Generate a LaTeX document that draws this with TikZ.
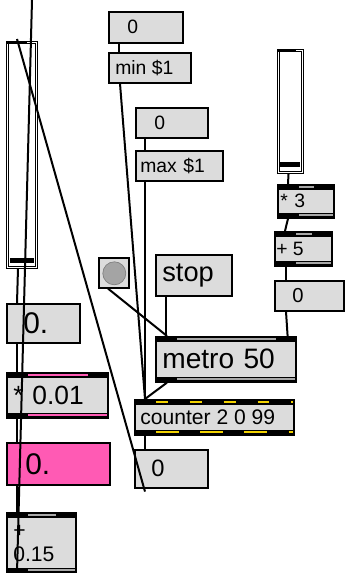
\documentclass[tikz,border=0pt]{standalone}
\usepackage{fontspec}
\setmainfont{Liberation Sans}
\usepackage{tikz}
\usetikzlibrary{positioning, calc}
\definecolor{PatchGrey}{HTML}{DCDCDC}
\definecolor{HotPink}{HTML}{FF5AB4}
\definecolor{InletGrey}{HTML}{A8A8A8}
\definecolor{CountYellow}{HTML}{F2D200}
\definecolor{BangGrey}{HTML}{A4A4A4}
\newdimen\pdpx
\pdpx=0.02cm
\tikzset{
  % Box styles
  numbox/.style={rectangle, draw=black, fill=PatchGrey, line width=1.6\pdpx, anchor=north west, inner sep=0pt},
  msgbox/.style={rectangle, draw=black, fill=PatchGrey, line width=1.6\pdpx, anchor=north west, inner sep=0pt},
  objbox/.style={rectangle, draw=black, fill=PatchGrey, line width=1.6\pdpx, anchor=north west, inner sep=0pt,
    path picture={
      \fill[black] (path picture bounding box.north west) rectangle ([yshift=-5\pdpx]path picture bounding box.north east);
      \fill[black] (path picture bounding box.south west) rectangle ([yshift=5\pdpx]path picture bounding box.south east);
      \fill[#1] ([xshift=21\pdpx,yshift=-1.5\pdpx]path picture bounding box.north west) rectangle ([xshift=-20\pdpx,yshift=-3.5\pdpx]path picture bounding box.north east);
      \fill[#1] ([xshift=21\pdpx,yshift=1.5\pdpx]path picture bounding box.south west) rectangle ([yshift=3.5\pdpx]path picture bounding box.south east);
    }},
  objbox/.default=InletGrey,
  cntbox/.style={rectangle, draw=black, fill=PatchGrey, line width=1.6\pdpx, anchor=north west, inner sep=0pt,
    path picture={
      \fill[black] (path picture bounding box.north west) rectangle ([yshift=-5\pdpx]path picture bounding box.north east);
      \fill[black] (path picture bounding box.south west) rectangle ([yshift=5\pdpx]path picture bounding box.south east);
      \draw[CountYellow, line width=2\pdpx, dash pattern=on 6.8pt off 12.5pt] ([xshift=21\pdpx,yshift=-2.5\pdpx]path picture bounding box.north west) -- ([yshift=-2.5\pdpx]path picture bounding box.north east);
      \draw[CountYellow, line width=2\pdpx, dash pattern=on 13pt off 12.2pt] ([xshift=21\pdpx,yshift=2.5\pdpx]path picture bounding box.south west) -- ([yshift=2.5\pdpx]path picture bounding box.south east);
    }},
  slider/.style={rectangle, draw=black, fill=white, line width=1.1\pdpx, double=white, double distance=1.1\pdpx, anchor=north west, inner sep=0pt},
  bang/.style={rectangle, draw=black, fill=PatchGrey, line width=1.6\pdpx, anchor=north west, inner sep=0pt},
  % Text
  boxtext/.style={anchor=west, inner sep=0pt, align=left},
  % Cord styles
  cord/.style={line width=2\pdpx, black}
}

\begin{document}
\begin{tikzpicture}[x=0.02cm, y=-0.02cm]
  \path[fill=white, use as bounding box] (0,0) rectangle (345,573);

  % Left column
  \node[slider, minimum width=29\pdpx, minimum height=225\pdpx] (lslider) at (7,42) {};
  \fill[black] (7,41) rectangle (27,44);
  \fill[black] (10,258) rectangle (34,263);
  \node[numbox, minimum width=73\pdpx, minimum height=39\pdpx] (lnum) at (6,303) {};
  \node[boxtext, font=\fontsize{17pt}{20pt}\selectfont] (lnum-t) at ([xshift=17\pdpx]lnum.west) {0.};
  \node[objbox=HotPink, minimum width=101\pdpx, minimum height=45\pdpx] (mul) at (6,372) {};
  \node[boxtext, font=\fontsize{15pt}{18pt}\selectfont] (mul-t) at ([xshift=7\pdpx]mul.west) {*\,\,0.01};
  \node[numbox, fill=HotPink, minimum width=103\pdpx, minimum height=42\pdpx] (pink) at (6,442) {};
  \node[boxtext, font=\fontsize{17pt}{20pt}\selectfont] (pink-t) at ([xshift=19\pdpx]pink.west) {0.};
  \node[objbox, minimum width=69\pdpx, minimum height=60\pdpx] (add) at (6,512) {};
  \node[boxtext, font=\fontsize{12pt}{13.6pt}\selectfont] (add-t) at ([xshift=7\pdpx,yshift=-1\pdpx]add.west) {+\\0.15};

  % Middle column
  \node[numbox, minimum width=74\pdpx, minimum height=31\pdpx] (topzero) at (108,11) {};
  \node[boxtext, font=\fontsize{11pt}{13pt}\selectfont] (topzero-t) at ([xshift=19\pdpx]topzero.west) {0};
  \node[msgbox, minimum width=82\pdpx, minimum height=30\pdpx] (minmsg) at (108,52) {};
  \node[boxtext, font=\fontsize{11pt}{13pt}\selectfont] (minmsg-t) at ([xshift=7\pdpx]minmsg.west) {min \$1};
  \node[numbox, minimum width=72\pdpx, minimum height=30\pdpx] (midzero) at (135,107) {};
  \node[boxtext, font=\fontsize{11pt}{13pt}\selectfont] (midzero-t) at ([xshift=19\pdpx]midzero.west) {0};
  \node[msgbox, minimum width=87\pdpx, minimum height=30\pdpx] (maxmsg) at (135,150) {};
  \node[boxtext, font=\fontsize{11pt}{13pt}\selectfont] (maxmsg-t) at ([xshift=5\pdpx]maxmsg.west) {max\,\,\$1};

  \node[bang, minimum width=30\pdpx, minimum height=30\pdpx] (bang) at (98,257) {};
  \fill[BangGrey, draw=gray] (bang.center) ++(0.5,0.5) circle[radius=11.5];
  \node[msgbox, minimum width=76\pdpx, minimum height=41\pdpx] (stop) at (155,254) {};
  \node[boxtext, font=\fontsize{15.5pt}{18pt}\selectfont] (stop-t) at ([xshift=7\pdpx]stop.west) {stop};
  \node[objbox, minimum width=140\pdpx, minimum height=45\pdpx] (metro) at (155,336) {};
  \node[boxtext, font=\fontsize{16pt}{19pt}\selectfont] (metro-t) at ([xshift=7\pdpx]metro.west) {metro\,\,50};
  \node[cntbox, minimum width=159\pdpx, minimum height=35\pdpx] (counter) at (134,399) {};
  \node[boxtext, font=\fontsize{12pt}{14pt}\selectfont] (counter-t) at ([xshift=6\pdpx]counter.west) {counter 2 0 99};
  \node[numbox, minimum width=73\pdpx, minimum height=38\pdpx] (botzero) at (134,449) {};
  \node[boxtext, font=\fontsize{13.5pt}{16pt}\selectfont] (botzero-t) at ([xshift=17\pdpx]botzero.west) {0};

  % Right column
  \node[slider, minimum width=24\pdpx, minimum height=122\pdpx] (rslider) at (278,50) {};
  \fill[black] (278,49) rectangle (296,52);
  \fill[black] (280,162) rectangle (300,167);
  \node[objbox, minimum width=56\pdpx, minimum height=33\pdpx] (times) at (277,184) {};
  \node[boxtext, font=\fontsize{11pt}{13pt}\selectfont] (times-t) at ([xshift=3\pdpx]times.west) {*\,\,3};
  \node[objbox, minimum width=57\pdpx, minimum height=34\pdpx] (plus) at (274,231) {};
  \node[boxtext, font=\fontsize{11pt}{13pt}\selectfont] (plus-t) at ([xshift=2\pdpx]plus.west) {+ 5};
  \node[numbox, minimum width=69\pdpx, minimum height=30\pdpx] (rzero) at (274,280) {};
  \node[boxtext, font=\fontsize{11.5pt}{13pt}\selectfont] (rzero-t) at ([xshift=18\pdpx]rzero.west) {0};

  % Cords
  \coordinate (offtop) at (32,0);
  \coordinate (offbot) at (17,573);
  \draw[cord] ([xshift=11\pdpx]topzero.south west) -- ([xshift=11\pdpx]minmsg.north west);
  \draw[cord] ([xshift=12\pdpx]minmsg.south west) -- ([xshift=11\pdpx]counter.north west);
  \draw[cord] ([xshift=10\pdpx]midzero.south west) -- ([xshift=10\pdpx]maxmsg.north west);
  \draw[cord] ([xshift=10\pdpx]maxmsg.south west) -- ([xshift=11\pdpx]counter.north west);
  \draw[cord] ([xshift=10\pdpx]bang.south west) -- ([xshift=12\pdpx]metro.north west);
  \draw[cord] ([xshift=11\pdpx]stop.south west) -- ([xshift=11\pdpx]metro.north west);
  \draw[cord] ([xshift=12\pdpx]metro.south west) -- ([xshift=11\pdpx]counter.north west);
  \draw[cord] ([xshift=11\pdpx]counter.south west) -- ([xshift=11\pdpx]botzero.north west);
  \draw[cord] ([xshift=-2\pdpx]rslider.south) -- ([xshift=11\pdpx]times.north west);
  \draw[cord] ([xshift=11\pdpx]times.south west) -- ([xshift=11\pdpx]plus.north west);
  \draw[cord] ([xshift=12\pdpx]plus.south west) -- ([xshift=12\pdpx]rzero.north west);
  \draw[cord] ([xshift=12\pdpx]rzero.south west) -- ([xshift=-9\pdpx]metro.north east);
  \draw[cord] ([xshift=11\pdpx]lslider.south west) -- ([xshift=11\pdpx]lnum.north west);
  \draw[cord] ([xshift=11\pdpx]lnum.south west) -- ([xshift=11\pdpx]mul.north west);
  \draw[cord] ([xshift=11\pdpx]mul.south west) -- ([xshift=11\pdpx]pink.north west);
  \draw[cord] ([xshift=11\pdpx]pink.south west) -- ([xshift=11\pdpx]add.north west);
  \draw[cord] (offtop) -- (offbot);
  \draw[cord] ([xshift=11\pdpx,yshift=-3\pdpx]botzero.south west) -- ([xshift=10\pdpx,yshift=3\pdpx]lslider.north west);
\end{tikzpicture}
\end{document}
